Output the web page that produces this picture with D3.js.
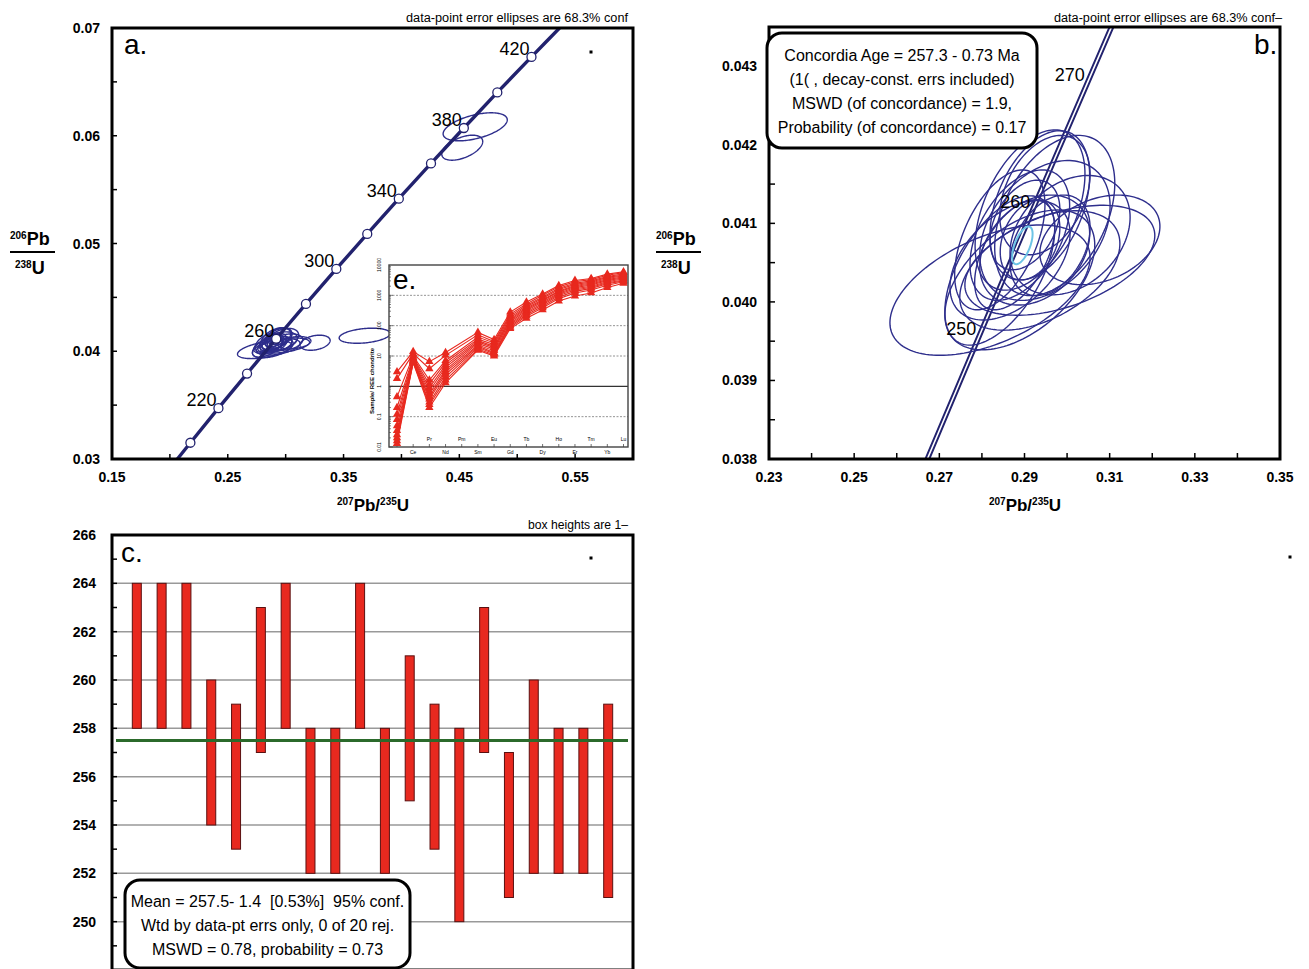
<!DOCTYPE html>
<html>
<head>
<meta charset="utf-8">
<script src="https://cdn.jsdelivr.net/npm/d3@7"></script>
<style>
body { margin: 0; background: #fff; }
svg { display: block; font-family: "Liberation Sans", Arial, sans-serif; }
</style>
</head>
<body>
<svg width="1309" height="969"></svg>
<script>
// --- concordia (ages in Ma, ratios) ---
const concAges = [180, 200, 220, 240, 260, 280, 300, 320, 340, 360, 380, 400, 420, 440];
const concX = [0.19396, 0.21771, 0.24193, 0.26664, 0.29183, 0.31753, 0.34374, 0.37047, 0.39773, 0.42553, 0.45389, 0.48281, 0.51231, 0.54239];
const concY = [0.02832, 0.03151, 0.03472, 0.03793, 0.04116, 0.04439, 0.04764, 0.05089, 0.05416, 0.05743, 0.06072, 0.06402, 0.06732, 0.07064];
const concLabelAges = [220, 260, 300, 340, 380, 420];

const concBAges = [240, 250, 260, 270, 280];
const concBX = [0.26664, 0.27917, 0.29183, 0.30462, 0.31753];
const concBY = [0.03793, 0.03954, 0.04116, 0.04277, 0.04439];
const concBLabelAges = [250, 260, 270];

// --- data-point error ellipses (both panels): centre, 1 sigma, error correlation ---
const ellX   = [0.2913, 0.2936, 0.2971, 0.2889, 0.2948, 0.2866, 0.2924, 0.3007, 0.3077, 0.2819, 0.2889, 0.2842, 0.2936, 0.2877, 0.2960, 0.2983, 0.2901, 0.2842, 0.2913, 0.2948];
const ellY   = [0.04117, 0.04123, 0.04110, 0.04085, 0.04091, 0.04053, 0.04066, 0.04085, 0.04079, 0.04015, 0.04028, 0.04040, 0.04040, 0.04060, 0.04072, 0.04053, 0.04098, 0.04079, 0.04079, 0.04136];
const ellSX  = [0.0129, 0.0117, 0.0141, 0.0117, 0.0153, 0.0141, 0.0129, 0.0141, 0.0141, 0.0235, 0.0176, 0.0129, 0.0188, 0.0094, 0.0094, 0.0223, 0.0082, 0.0106, 0.0070, 0.0106];
const ellSY  = [0.00102, 0.00095, 0.00102, 0.00083, 0.00089, 0.00076, 0.00070, 0.00076, 0.00057, 0.00083, 0.00089, 0.00095, 0.00076, 0.00070, 0.00064, 0.00070, 0.00057, 0.00089, 0.00051, 0.00076];
const ellRho = [0.45, 0.4, 0.4, 0.45, 0.35, 0.45, 0.3, 0.3, 0.3, 0.5, 0.5, 0.55, 0.45, 0.5, 0.35, 0.45, 0.35, 0.5, 0.3, 0.35];
// extra ellipses only plotted in panel a
const aOnlyX   = [0.3254, 0.3682, 0.4637, 0.4525];
const aOnlyY   = [0.04079, 0.04144, 0.06083, 0.05889];
const aOnlySX  = [0.0130, 0.0220, 0.0277, 0.0177];
const aOnlySY  = [0.00070, 0.00070, 0.00130, 0.00116];
const aOnlyRho = [0.3, 0.3, 0.5, 0.5];
// concordia age ellipse [x, y, sx, sy, rho]
const ageEllipse = [0.2895, 0.04072, 0.0024, 0.00024, 0.6];

// --- weighted mean (panel c): box low / high ages, Ma ---
const ageLow  = [258, 258, 258, 254, 253, 257, 258, 252, 252, 258, 252, 255, 253, 250, 257, 251, 252, 252, 252, 251];
const ageHigh = [264, 264, 264, 260, 259, 263, 264, 258, 258, 264, 258, 261, 259, 258, 263, 257, 260, 258, 258, 259];
const meanAge = 257.5;

// --- REE chondrite-normalised patterns (panel e), null = Pm not measured ---
const reeElements = ["La", "Ce", "Pr", "Nd", "Pm", "Sm", "Eu", "Gd", "Tb", "Dy", "Ho", "Er", "Tm", "Yb", "Lu"];
const reeSamples = [
  [3.0, 14, 6.5, 13, null, 60, 35, 280, 600, 1100, 2100, 3100, 3600, 5000, 6000],
  [1.8, 12, 3.8, 10.5, null, 50, 30, 240, 520, 1000, 1900, 2800, 3300, 4600, 5600],
  [0.45, 10, 1.6, 7, null, 42, 27, 210, 460, 880, 1700, 2500, 3000, 4200, 5100],
  [0.2, 9, 1.2, 6, null, 36, 24, 185, 420, 800, 1550, 2300, 2750, 3900, 4700],
  [0.12, 8.5, 0.9, 5, null, 32, 21, 165, 380, 720, 1400, 2100, 2550, 3600, 4400],
  [0.08, 8, 0.7, 4.2, null, 29, 19, 150, 350, 660, 1300, 1950, 2350, 3300, 4100],
  [0.05, 7.5, 0.55, 3.5, null, 26, 17, 135, 315, 600, 1180, 1800, 2200, 3050, 3800],
  [0.035, 7, 0.45, 3, null, 23, 15, 120, 285, 540, 1080, 1650, 2000, 2800, 3500],
  [0.025, 6.8, 0.38, 2.5, null, 21, 13, 108, 255, 490, 980, 1500, 1850, 2600, 3200],
  [0.02, 6.5, 0.3, 2, null, 19, 12, 98, 230, 440, 880, 1350, 1700, 2400, 3000],
  [0.016, 6.2, 0.25, 1.6, null, 17, 11, 88, 205, 390, 780, 1200, 1500, 2150, 2800],
  [0.013, 6, 0.2, 1.3, null, 15.5, 10, 80, 175, 330, 650, 950, 1200, 1800, 2500]
];

// --- tick labels ---
const aXTicks = [0.15, 0.25, 0.35, 0.45, 0.55];
const aYTicks = [0.03, 0.04, 0.05, 0.06, 0.07];
const bXTicks = [0.23, 0.25, 0.27, 0.29, 0.31, 0.33, 0.35];
const bYTicks = [0.038, 0.039, 0.040, 0.041, 0.042, 0.043];
const cYTicks = [250, 252, 254, 256, 258, 260, 262, 264, 266];
const eYTicks = [0.01, 0.1, 1, 10, 100, 1000, 10000];

const svg = d3.select("svg");
const navy = "#2e2e8c";
const red = "#e8291f";

function ellipsePath(cx, cy, sx, sy, rho, xs, ys) {
  const k = Math.sqrt(1 - rho * rho);
  const pts = d3.range(0, 145).map(i => {
    const t = i / 144 * 2 * Math.PI;
    return [xs(cx + sx * Math.cos(t)), ys(cy + sy * (rho * Math.cos(t) + k * Math.sin(t)))];
  });
  return d3.line()(pts) + "Z";
}

function clip(id, x0, y0, x1, y1) {
  svg.append("clipPath").attr("id", id).append("rect")
    .attr("x", x0).attr("y", y0).attr("width", x1 - x0).attr("height", y1 - y0);
}

function inTicks(g, xs, ys, xvals, yvals, len) {
  const [y0] = ys.range();
  const [x0] = xs.range();
  g.selectAll(null).data(xvals).join("line")
    .attr("x1", d => xs(d)).attr("x2", d => xs(d))
    .attr("y1", y0).attr("y2", y0 - len)
    .attr("stroke", "#000").attr("stroke-width", 1.5);
  g.selectAll(null).data(yvals).join("line")
    .attr("x1", x0).attr("x2", x0 + len)
    .attr("y1", d => ys(d)).attr("y2", d => ys(d))
    .attr("stroke", "#000").attr("stroke-width", 1.5);
}

function yLabels(vals, ys, xEnd, fmt) {
  svg.append("g").selectAll("text").data(vals).join("text")
    .attr("x", xEnd).attr("y", d => ys(d) + 5)
    .attr("text-anchor", "end").attr("font-size", 14).attr("font-weight", "bold")
    .text(fmt);
}

function xLabels(vals, xs, y, fmt) {
  svg.append("g").selectAll("text").data(vals).join("text")
    .attr("x", d => xs(d)).attr("y", y)
    .attr("text-anchor", "middle").attr("font-size", 14).attr("font-weight", "bold")
    .text(fmt);
}

function ratioTitle(x, y) {
  const t = svg.append("text").attr("x", x).attr("y", y)
    .attr("text-anchor", "middle").attr("font-weight", "bold");
  t.append("tspan").attr("font-size", 10).attr("dy", -6).text("207");
  t.append("tspan").attr("font-size", 17).attr("dy", 6).text("Pb/");
  t.append("tspan").attr("font-size", 10).attr("dy", -6).text("235");
  t.append("tspan").attr("font-size", 17).attr("dy", 6).text("U");
}

function fracTitle(x, y) {
  const t1 = svg.append("text").attr("x", x).attr("y", y).attr("font-weight", "bold");
  t1.append("tspan").attr("font-size", 10).attr("dy", -6).text("206");
  t1.append("tspan").attr("font-size", 18).attr("dy", 6).text("Pb");
  svg.append("line").attr("x1", x).attr("x2", x + 45).attr("y1", y + 7).attr("y2", y + 7)
    .attr("stroke", "#000").attr("stroke-width", 2);
  const t2 = svg.append("text").attr("x", x + 5).attr("y", y + 29).attr("font-weight", "bold");
  t2.append("tspan").attr("font-size", 10).attr("dy", -6).text("238");
  t2.append("tspan").attr("font-size", 18).attr("dy", 6).text("U");
}

function headerText(txt, xEnd, y, len) {
  svg.append("text").attr("x", xEnd - len).attr("y", y)
    .attr("font-size", 12).attr("textLength", len).attr("lengthAdjust", "spacingAndGlyphs")
    .text(txt);
}

function dot(x, y) {
  svg.append("rect").attr("x", x - 1.5).attr("y", y - 1.5).attr("width", 3).attr("height", 3).attr("fill", "#000");
}

// ================= panel a =================
const A = { x0: 112, x1: 633, y0: 28, y1: 459 };
const ax = d3.scaleLinear().domain([0.15, 0.60]).range([A.x0, A.x1]);
const ay = d3.scaleLinear().domain([0.03, 0.07]).range([A.y1, A.y0]);
clip("clipA", A.x0, A.y0, A.x1, A.y1);
const gA = svg.append("g").attr("clip-path", "url(#clipA)");

gA.selectAll("path.ell").data(d3.range(ellX.length)).join("path")
  .attr("d", i => ellipsePath(ellX[i], ellY[i], ellSX[i], ellSY[i], ellRho[i], ax, ay))
  .attr("fill", "none").attr("stroke", navy).attr("stroke-width", 1.4);
gA.selectAll("path.ella").data(d3.range(aOnlyX.length)).join("path")
  .attr("d", i => ellipsePath(aOnlyX[i], aOnlyY[i], aOnlySX[i], aOnlySY[i], aOnlyRho[i], ax, ay))
  .attr("fill", "none").attr("stroke", navy).attr("stroke-width", 1.4);

const concPts = concAges.map((t, i) => [ax(concX[i]), ay(concY[i])]);
gA.append("path").attr("d", d3.line().curve(d3.curveCatmullRom)(concPts))
  .attr("fill", "none").attr("stroke", "#22226e").attr("stroke-width", 3.4);
const markIdx = concAges.map((t, i) => i).filter(i => concAges[i] >= 200 && concAges[i] <= 420);
gA.selectAll("circle").data(markIdx).join("circle")
  .attr("cx", i => ax(concX[i])).attr("cy", i => ay(concY[i])).attr("r", 4.5)
  .attr("fill", "#fff").attr("stroke", "#22226e").attr("stroke-width", 1.3);
gA.selectAll("text.age").data(concLabelAges).join("text")
  .attr("x", t => ax(concX[concAges.indexOf(t)]) - 2)
  .attr("y", t => ay(concY[concAges.indexOf(t)]) - 2)
  .attr("text-anchor", "end").attr("font-size", 18).text(t => t);

svg.append("text").attr("x", 124).attr("y", 54).attr("font-size", 28).text("a.");
dot(591, 52);

// inset e
const E = { x0: 389, x1: 628, y0: 265, y1: 447 };
const ex = d3.scalePoint().domain(reeElements).range([397, 623.5]);
const ey = d3.scaleLog().domain([0.01, 10000]).range([E.y1, E.y0]);
svg.append("rect").attr("x", E.x0).attr("y", E.y0).attr("width", E.x1 - E.x0).attr("height", E.y1 - E.y0)
  .attr("fill", "#fff");
const gE = svg.append("g");
gE.selectAll("line.grid").data([0.1, 10, 100, 1000]).join("line")
  .attr("x1", E.x0).attr("x2", E.x1).attr("y1", d => ey(d)).attr("y2", d => ey(d))
  .attr("stroke", "#777").attr("stroke-width", 0.8).attr("stroke-dasharray", "2,1.5");
gE.append("line").attr("x1", E.x0).attr("x2", E.x1).attr("y1", ey(1)).attr("y2", ey(1))
  .attr("stroke", "#333").attr("stroke-width", 1.2);
// log minor ticks
const decades = [0.01, 0.1, 1, 10, 100, 1000];
const minorLog = [];
decades.forEach(d => d3.range(1, 10).forEach(m => minorLog.push(d * m)));
gE.selectAll("line.mt").data(minorLog).join("line")
  .attr("x1", E.x0).attr("x2", d => E.x0 + (decades.includes(d) ? 4 : 2))
  .attr("y1", d => ey(d)).attr("y2", d => ey(d)).attr("stroke", "#333").attr("stroke-width", 0.6);
gE.selectAll("line.xt").data(reeElements).join("line")
  .attr("x1", d => ex(d)).attr("x2", d => ex(d)).attr("y1", E.y1).attr("y2", E.y1 - 3)
  .attr("stroke", "#333").attr("stroke-width", 0.7);
gE.selectAll("text.el").data(reeElements).join("text")
  .attr("x", d => ex(d)).attr("y", (d, i) => i % 2 === 0 ? E.y1 - 6 : E.y1 + 7)
  .attr("text-anchor", "middle").attr("font-size", 5).text(d => d);
gE.selectAll("text.yl").data(eYTicks).join("text")
  .attr("transform", d => `translate(${E.x0 - 8},${ey(d)}) rotate(-90)`)
  .attr("text-anchor", "middle").attr("font-size", 5).text(d => d);
gE.append("text").attr("transform", `translate(${E.x0 - 15},${ey(1.5)}) rotate(-90)`)
  .attr("text-anchor", "middle").attr("font-size", 6).attr("font-weight", "bold")
  .text("Sample/ REE chondrite");

const reeLine = d3.line().x(d => ex(d.el)).y(d => ey(d.v));
const triangle = d3.symbol().type(d3.symbolTriangle).size(30);
reeSamples.forEach(s => {
  const pts = s.map((v, i) => ({ el: reeElements[i], v: v })).filter(d => d.v !== null);
  gE.append("path").attr("d", reeLine(pts)).attr("fill", "none").attr("stroke", red).attr("stroke-width", 1.1);
  gE.selectAll(null).data(pts).join("path")
    .attr("transform", d => `translate(${ex(d.el)},${ey(d.v)})`)
    .attr("d", triangle).attr("fill", red);
});
gE.append("rect").attr("x", E.x0).attr("y", E.y0).attr("width", E.x1 - E.x0).attr("height", E.y1 - E.y0)
  .attr("fill", "none").attr("stroke", "#444").attr("stroke-width", 1.4);
gE.append("text").attr("x", 393).attr("y", 289).attr("font-size", 28).text("e.");

inTicks(svg.append("g"), ax, ay, d3.range(0.15, 0.601, 0.05), d3.range(0.03, 0.0701, 0.005), 5);
svg.append("rect").attr("x", A.x0).attr("y", A.y0).attr("width", A.x1 - A.x0).attr("height", A.y1 - A.y0)
  .attr("fill", "none").attr("stroke", "#000").attr("stroke-width", 3);
yLabels(aYTicks, ay, A.x0 - 12, d3.format(".2f"));
xLabels(aXTicks, ax, 482, d3.format(".2f"));
ratioTitle(373, 511);
fracTitle(10, 245);
headerText("data-point error ellipses are 68.3% conf", 628, 22, 222);

// ================= panel b =================
const B = { x0: 769, x1: 1280, y0: 27, y1: 459 };
const bx = d3.scaleLinear().domain([0.23, 0.35]).range([B.x0, B.x1]);
const by = d3.scaleLinear().domain([0.038, 0.0435]).range([B.y1, B.y0]);
clip("clipB", B.x0, B.y0, B.x1, B.y1);
const gB = svg.append("g").attr("clip-path", "url(#clipB)");

const concBPts = concBAges.map((t, i) => [bx(concBX[i]), by(concBY[i])]);
const concBPath = d3.line().curve(d3.curveCatmullRom)(concBPts);
gB.append("path").attr("d", concBPath).attr("fill", "none").attr("stroke", "#22226e").attr("stroke-width", 5.5);
gB.append("path").attr("d", concBPath).attr("fill", "none").attr("stroke", "#fff").attr("stroke-width", 1.6);

gB.selectAll("path.ell").data(d3.range(ellX.length)).join("path")
  .attr("d", i => ellipsePath(ellX[i], ellY[i], ellSX[i], ellSY[i], ellRho[i], bx, by))
  .attr("fill", "none").attr("stroke", navy).attr("stroke-width", 1.4);
gB.append("path")
  .attr("d", ellipsePath(ageEllipse[0], ageEllipse[1], ageEllipse[2], ageEllipse[3], ageEllipse[4], bx, by))
  .attr("fill", "none").attr("stroke", "#6cc4e6").attr("stroke-width", 2);
gB.selectAll("text.age").data(concBLabelAges).join("text")
  .attr("x", t => bx(concBX[concBAges.indexOf(t)]) - 2)
  .attr("y", t => by(concBY[concBAges.indexOf(t)]) - 3)
  .attr("text-anchor", "end").attr("font-size", 18).text(t => t);

inTicks(svg.append("g"), bx, by, d3.range(0.23, 0.3501, 0.01), d3.range(0.038, 0.04351, 0.0005), 6);
svg.append("rect").attr("x", B.x0).attr("y", B.y0).attr("width", B.x1 - B.x0).attr("height", B.y1 - B.y0)
  .attr("fill", "none").attr("stroke", "#000").attr("stroke-width", 3);
yLabels(bYTicks, by, B.x0 - 12, d3.format(".3f"));
xLabels(bXTicks, bx, 482, d3.format(".2f"));
ratioTitle(1025, 511);
fracTitle(656, 245);
headerText("data-point error ellipses are 68.3% conf\u2013", 1282, 22, 228);
svg.append("text").attr("x", 1254).attr("y", 54).attr("font-size", 28).text("b.");

const boxB = svg.append("g");
boxB.append("rect").attr("x", 767).attr("y", 33).attr("width", 270).attr("height", 115).attr("rx", 15)
  .attr("fill", "#fff").attr("stroke", "#000").attr("stroke-width", 3);
["Concordia Age = 257.3 - 0.73 Ma", "(1( , decay-const. errs included)",
 "MSWD (of concordance) = 1.9,", "Probability (of concordance) = 0.17"].forEach((s, i) => {
  boxB.append("text").attr("x", 902).attr("y", 61 + i * 24).attr("text-anchor", "middle")
    .attr("font-size", 16).text(s);
});

// ================= panel c =================
const C = { x0: 112, x1: 633, y0: 535, y1: 970 };
const cx = d3.scaleLinear().domain([0, ageLow.length + 1]).range([C.x0, C.x1]);
const cy = d3.scaleLinear().domain([248, 266]).range([C.y1, C.y0]);
const gC = svg.append("g");
gC.selectAll("line.grid").data(cYTicks.slice(0, -1)).join("line")
  .attr("x1", C.x0).attr("x2", C.x1).attr("y1", d => cy(d)).attr("y2", d => cy(d))
  .attr("stroke", "#999").attr("stroke-width", 1.5);
gC.selectAll("rect.bar").data(ageLow).join("rect")
  .attr("x", (d, i) => cx(i + 1) - 4.5).attr("width", 9)
  .attr("y", (d, i) => cy(ageHigh[i])).attr("height", (d, i) => cy(d) - cy(ageHigh[i]))
  .attr("fill", red).attr("stroke", "#5a1010").attr("stroke-width", 1);
gC.append("line").attr("x1", C.x0 + 4).attr("x2", C.x1 - 5).attr("y1", cy(meanAge)).attr("y2", cy(meanAge))
  .attr("stroke", "#2b6a2b").attr("stroke-width", 3);
const cTickLines = svg.append("g");
cTickLines.selectAll("line").data(d3.range(248, 267, 1)).join("line")
  .attr("x1", C.x0).attr("x2", C.x0 + 5).attr("y1", d => cy(d)).attr("y2", d => cy(d))
  .attr("stroke", "#000").attr("stroke-width", 1.5);
svg.append("rect").attr("x", C.x0).attr("y", C.y0).attr("width", C.x1 - C.x0).attr("height", C.y1 - C.y0)
  .attr("fill", "none").attr("stroke", "#000").attr("stroke-width", 3);
yLabels(cYTicks, cy, C.x0 - 16, d => d);
svg.append("text").attr("x", 528).attr("y", 529).attr("font-size", 12)
  .attr("textLength", 100).attr("lengthAdjust", "spacingAndGlyphs").text("box heights are 1\u2013");
svg.append("text").attr("x", 121).attr("y", 562).attr("font-size", 28).text("c.");
dot(591, 558);
dot(1290, 557);

const boxC = svg.append("g");
boxC.append("rect").attr("x", 125).attr("y", 880).attr("width", 285).attr("height", 88).attr("rx", 15)
  .attr("fill", "#fff").attr("stroke", "#000").attr("stroke-width", 3);
["Mean = 257.5- 1.4  [0.53%]  95% conf.", "Wtd by data-pt errs only, 0 of 20 rej.",
 "MSWD = 0.78, probability = 0.73"].forEach((s, i) => {
  boxC.append("text").attr("x", 267.5).attr("y", 907 + i * 24).attr("text-anchor", "middle")
    .attr("font-size", 16).style("white-space", "pre").text(s);
});
</script>
</body>
</html>
